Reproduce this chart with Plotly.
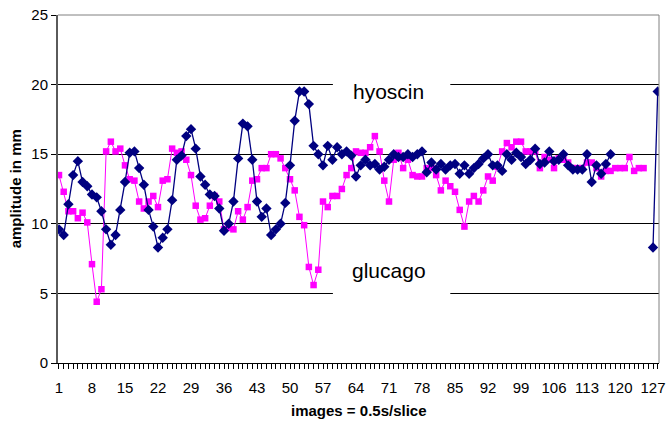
import plotly.graph_objects as go

# ---- data -----------------------------------------------------------
images = list(range(1, 129))

hyoscin = [
    9.6, 9.2, 11.4, 13.5, 14.5, 13.0, 12.7, 12.1, 11.9, 10.9,
    9.6, 8.5, 9.2, 11.0, 13.0, 15.1, 15.2, 14.0, 12.8, 11.0,
    9.8, 8.3, 9.0, 9.6, 11.7, 14.6, 14.9, 16.3, 16.8, 15.4,
    13.4, 12.8, 12.1, 12.0, 11.1, 9.5, 10.0, 11.6, 14.7, 17.2,
    17.0, 14.6, 11.6, 10.5, 11.1, 9.2, 9.6, 10.0, 11.5, 14.2,
    17.4, 19.5, 19.5, 18.6, 15.6, 15.0, 14.2, 15.6, 14.6, 15.5,
    15.0, 15.2, 14.9, 13.4, 14.2, 14.6, 14.2, 14.3, 13.9, 14.1,
    14.6, 15.0, 14.8, 14.8, 15.0, 14.8, 15.0, 15.2, 13.7, 14.4,
    13.9, 14.3, 13.9, 14.2, 14.3, 13.6, 14.2, 13.6, 14.0, 14.3,
    14.7, 15.0, 14.2, 14.2, 13.8, 15.0, 14.6, 15.1, 14.8, 14.3,
    14.6, 15.4, 14.3, 14.4, 15.2, 14.5, 14.6, 15.0, 14.2, 13.9,
    13.9, 13.9, 15.0, 13.0, 14.2, 13.6, 14.3, 15.0,
    None, None, None, None, None, None, None, None,
    8.3, 19.5,
]

glucago = [
    13.5, 12.3, 10.9, 10.9, 10.4, 10.8, 10.1, 7.1, 4.4, 5.3,
    15.2, 15.9, 15.2, 15.4, 14.2, 13.2, 13.1, 11.6, 11.1, 11.6,
    12.0, 11.2, 13.1, 13.2, 15.4, 15.1, 15.2, 14.6, 13.5, 11.3,
    10.3, 10.4, 11.3, 12.0, 11.6, 9.6, 9.7, 9.6, 10.9, 10.3,
    11.2, 13.1, 13.2, 14.0, 14.0, 15.0, 15.0, 14.7, 14.0, 13.2,
    12.4, 10.5, 9.9, 6.9, 5.6, 6.7, 11.6, 11.2, 12.0, 12.0,
    12.5, 13.5, 14.0, 15.2, 15.1, 15.1, 15.5, 16.3, 15.2, 13.1,
    11.6, 14.6, 15.1, 14.0, 14.6, 13.5, 13.4, 13.4, 14.0, 14.0,
    13.5, 12.4, 13.1, 12.7, 12.3, 11.0, 9.8, 11.6, 12.0, 11.6,
    12.4, 13.4, 13.1, 14.1, 15.2, 15.8, 15.5, 15.9, 15.9, 15.2,
    15.2, 15.2, 14.0, 14.8, 14.6, 14.0, 14.7, 14.6, 14.4, 14.0,
    14.0, 14.0, 14.4, 14.4, 14.0, 13.4, 13.8, 13.8, 14.0, 14.0,
    14.0, 14.8, 13.8, 14.0, 14.0,
    None, None, None,
]

x_tick_labels = [str(v) for v in range(1, 128, 7)]
y_ticks = [0, 5, 10, 15, 20, 25]

FONT = "Liberation Sans, Arial, sans-serif"

fig = go.Figure()

fig.add_trace(go.Scatter(
    x=images, y=glucago, mode="lines+markers", name="glucago",
    line=dict(color="#FF00FF", width=1),
    marker=dict(symbol="square", size=6.5, color="#FF00FF"),
    connectgaps=False,
))
fig.add_trace(go.Scatter(
    x=images, y=hyoscin, mode="lines+markers", name="hyoscin",
    line=dict(color="#000080", width=1.3),
    marker=dict(symbol="diamond", size=8, color="#000080"),
    connectgaps=False,
))

# white label boxes interrupting the gridlines
fig.add_shape(type="rect", x0=59.1, x1=84.0, y0=18.9, y1=21.2,
              fillcolor="white", line=dict(width=0), layer="above")
fig.add_shape(type="rect", x0=59.1, x1=84.0, y0=4.8, y1=7.9,
              fillcolor="white", line=dict(width=0), layer="above")

# top and right borders (grey)
fig.add_shape(type="line", xref="paper", yref="paper", x0=0, x1=1, y0=1, y1=1,
              line=dict(color="#808080", width=1), layer="above")
fig.add_shape(type="line", xref="paper", yref="paper", x0=1, x1=1, y0=0, y1=1,
              line=dict(color="#808080", width=1), layer="above")

fig.add_annotation(x=70.8, y=19.5, text="hyoscin", showarrow=False,
                   font=dict(family=FONT, size=21, color="black"))
fig.add_annotation(x=70.9, y=6.65, text="glucago", showarrow=False,
                   font=dict(family=FONT, size=21, color="black"))

# axis titles
fig.add_annotation(xref="paper", yref="paper", x=-0.071, y=0.5,
                   text="<b>amplitude in mm</b>", textangle=-90, showarrow=False,
                   xanchor="center", yanchor="middle",
                   font=dict(family=FONT, size=15, color="black"))
fig.add_annotation(xref="paper", yref="paper", x=0.5, y=-0.137,
                   text="<b>images = 0.5s/slice</b>", showarrow=False,
                   xanchor="center", yanchor="middle",
                   font=dict(family=FONT, size=15, color="black"))

fig.update_layout(
    width=671, height=422,
    margin=dict(l=58, r=6, t=14, b=59),
    paper_bgcolor="white", plot_bgcolor="white",
    showlegend=False,
    font=dict(family=FONT, size=15, color="black"),
)

fig.update_xaxes(
    range=[0.79, 128.27],
    tickmode="linear", tick0=1, dtick=7,
    ticks="outside", ticklen=5, tickcolor="black", tickwidth=1,
    minor=dict(ticks="outside", tickmode="linear", tick0=1, dtick=1,
               ticklen=5, tickcolor="black", tickwidth=1, showgrid=False),
    showgrid=False, zeroline=False,
    showline=True, linecolor="black", linewidth=1,
    ticklabelstandoff=6,
    ticklabeloverflow="allow",
    tickfont=dict(family=FONT, size=15, color="black"),
)
fig.update_yaxes(
    range=[0, 25],
    tickmode="array", tickvals=y_ticks, ticktext=[str(v) for v in y_ticks],
    ticks="outside", ticklen=5, tickcolor="black", tickwidth=1,
    showgrid=True, gridcolor="black", gridwidth=1,
    zeroline=False,
    showline=True, linecolor="#5a5a5a", linewidth=2,
    tickfont=dict(family=FONT, size=15, color="black"),
)

fig.write_html(
    "out.html",
    config={"displayModeBar": False},
    post_script="document.body.style.margin='0';document.body.style.overflow='hidden';",
)
